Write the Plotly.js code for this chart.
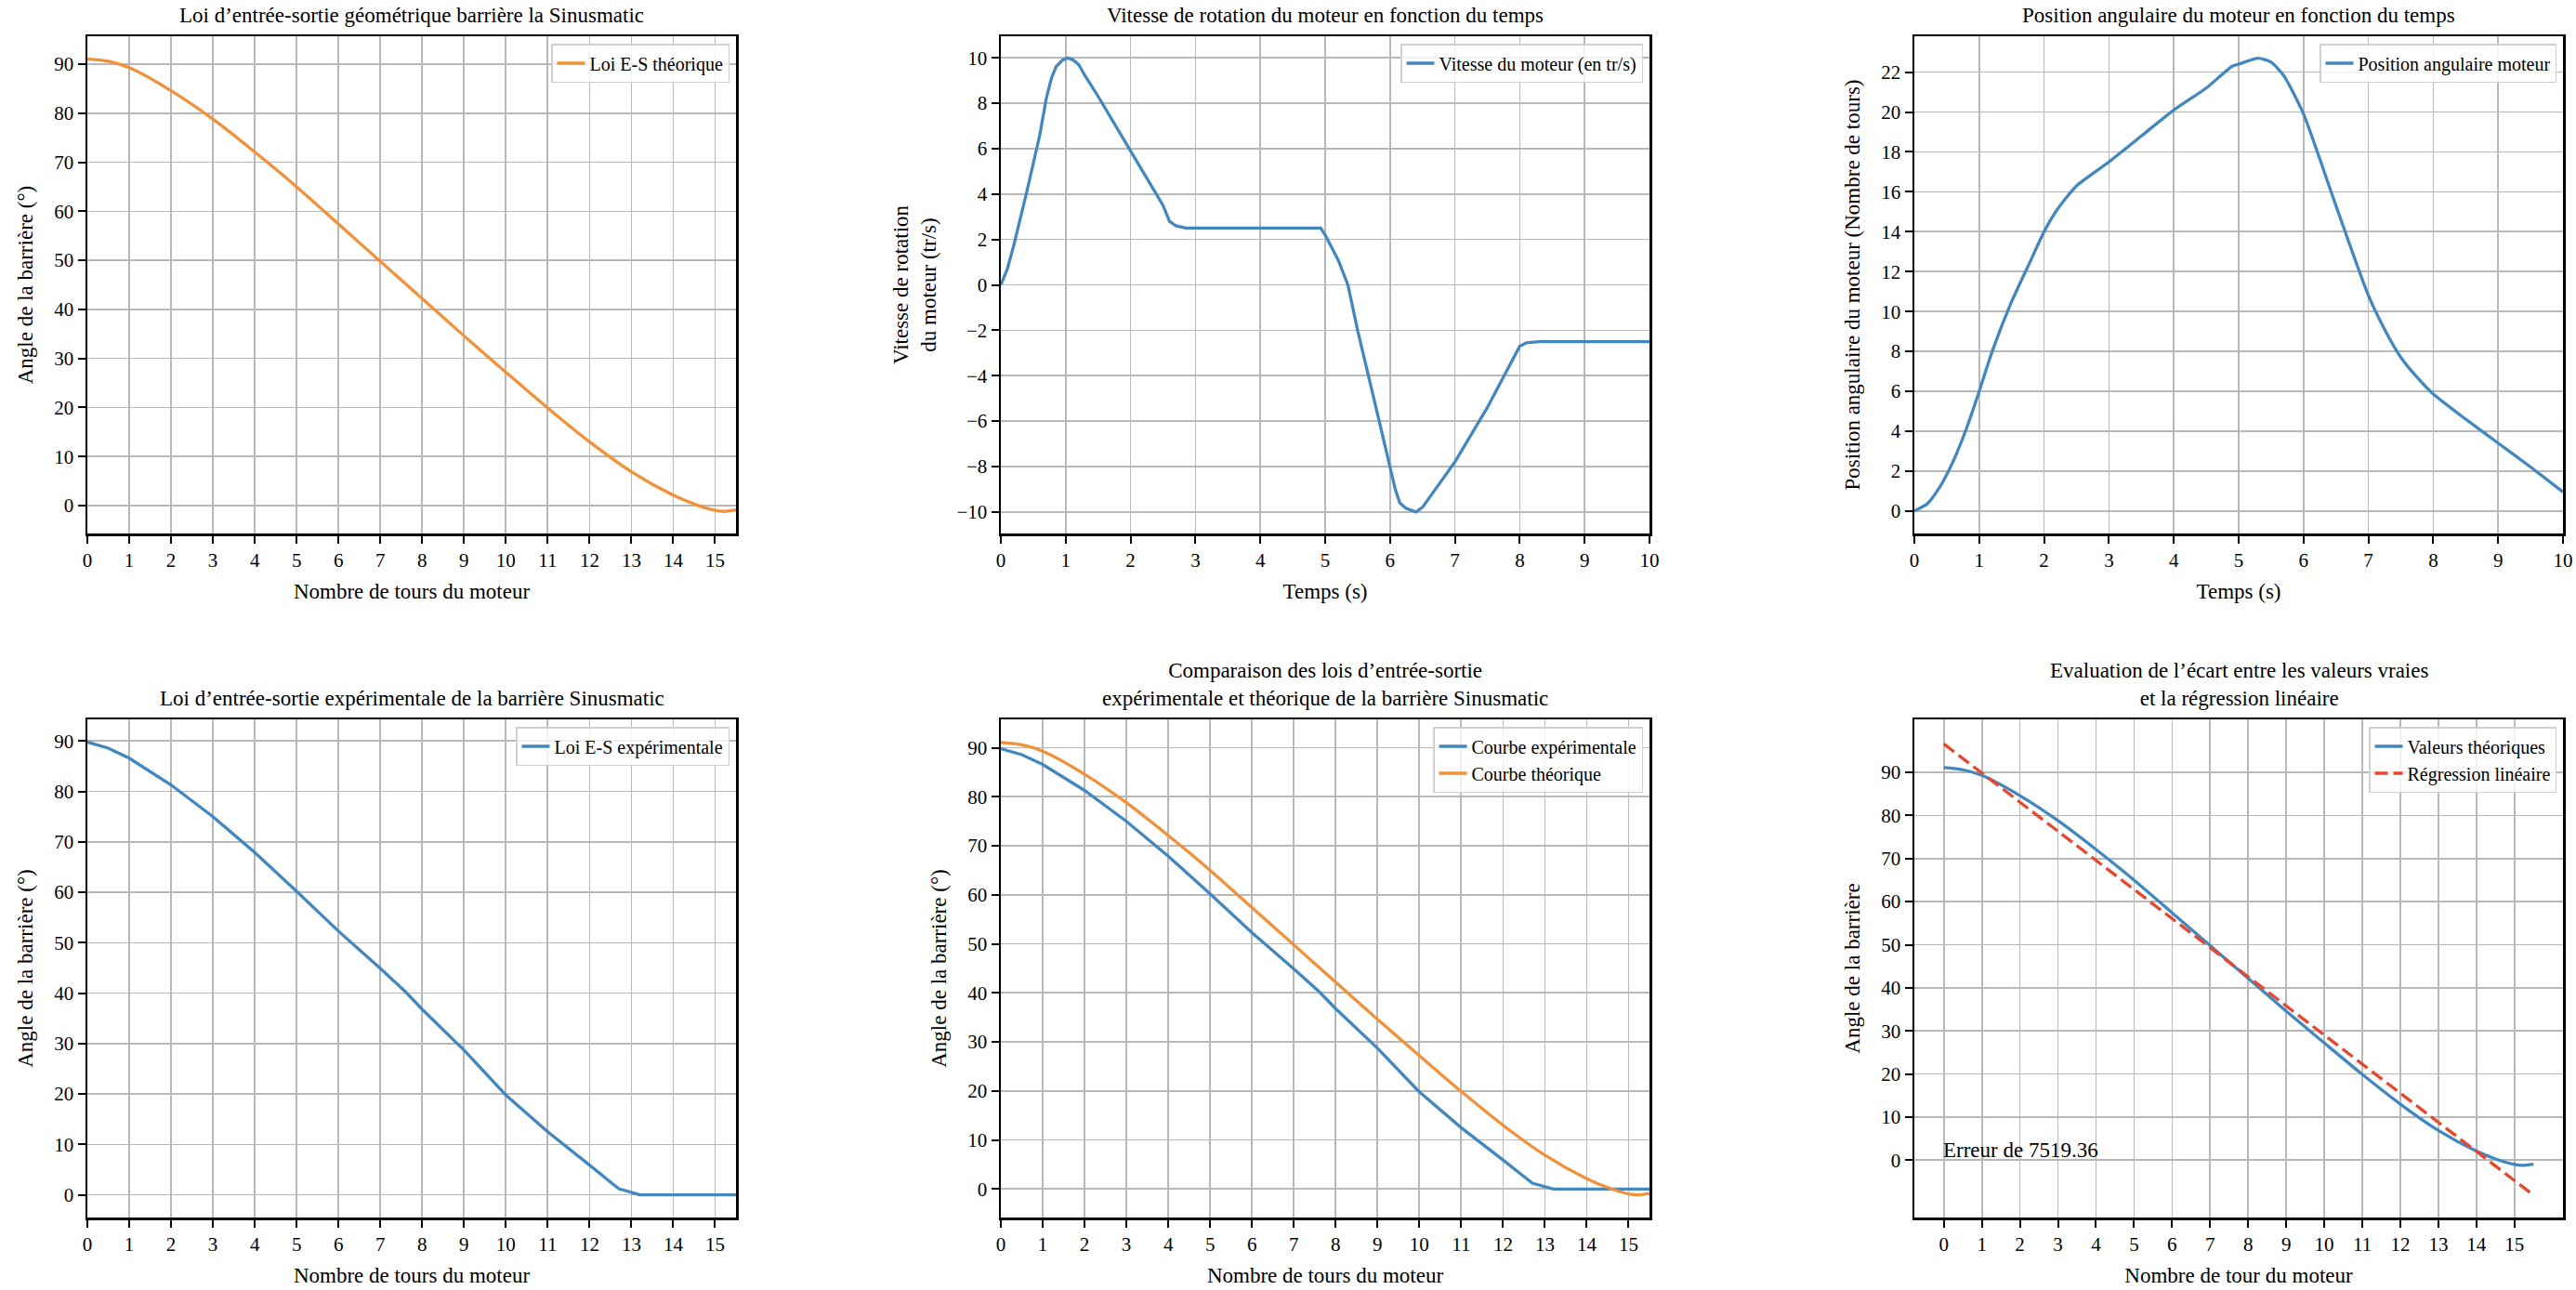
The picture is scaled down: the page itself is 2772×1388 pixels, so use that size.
<!DOCTYPE html>
<html>
<head>
<meta charset="utf-8">
<script src="https://cdn.plot.ly/plotly-3.0.1.min.js"></script>
<style>html,body{margin:0;padding:0;background:#fff;}#chart{width:2772px;height:1388px;}</style>
</head>
<body>
<div id="chart"></div>
<script>
// ---------- DATA ----------
const turnsTheo = [0, 0.5, 1, 2, 3, 4, 5, 6, 7, 8, 9, 10, 11, 12, 13, 14, 14.5, 15, 15.2, 15.5];
const angleTheo = [91.1, 90.6, 89.3, 84.6, 78.8, 72.1, 65.0, 57.4, 49.8, 42.2, 34.6, 27.2, 19.9, 13.0, 6.9, 2.1, 0.3, -1.0, -1.2, -0.9];

const turnsExp = [0, 0.5, 1, 2, 3, 4, 5, 6, 7, 7.6, 8, 9, 10, 11, 12, 12.7, 13.2, 14, 15, 15.5];
const angleExp = [89.8, 88.6, 86.6, 81.3, 75.0, 67.9, 60.2, 52.3, 44.9, 40.3, 36.8, 28.7, 19.8, 12.5, 5.9, 1.2, 0, 0, 0, 0];

const timeSpeed = [0, 0.1, 0.2, 0.4, 0.6, 0.7, 0.78, 0.85, 0.95, 1.03, 1.12, 1.2, 1.3, 1.5, 2.0, 2.5, 2.6, 2.7, 2.85, 3, 4, 4.93, 5.0, 5.2, 5.35, 5.5, 5.8, 6.0, 6.08, 6.15, 6.25, 6.4, 6.5, 6.6, 7.0, 7.5, 7.9, 8.0, 8.1, 8.3, 9, 10];
const speed     = [0, 0.7, 1.75, 4.1, 6.6, 8.2, 9.1, 9.6, 9.9, 10.0, 9.9, 9.7, 9.2, 8.3, 5.9, 3.5, 2.8, 2.6, 2.5, 2.5, 2.5, 2.5, 2.2, 1.1, 0.0, -2.0, -5.6, -8.1, -9.0, -9.6, -9.85, -10.0, -9.8, -9.4, -7.8, -5.4, -3.25, -2.7, -2.55, -2.5, -2.5, -2.5];

const timePos  = [0, 0.2, 0.4, 0.6, 0.8, 1.0, 1.2, 1.5, 1.8, 2.0, 2.2, 2.5, 3.0, 3.5, 4.0, 4.5, 4.9, 5.0, 5.3, 5.5, 5.7, 6.0, 6.5, 7.0, 7.25, 7.5, 7.75, 8.0, 8.5, 9.0, 9.5, 10];
const position = [0, 0.36, 1.24, 2.5, 4.1, 6.0, 8.0, 10.5, 12.6, 14.0, 15.1, 16.3, 17.5, 18.8, 20.1, 21.2, 22.3, 22.4, 22.7, 22.5, 21.8, 19.9, 15.3, 10.8, 9.1, 7.7, 6.7, 5.86, 4.6, 3.4, 2.2, 0.95];

const turnsReg = [0, 15.5];
const angleReg = [96.6, -8.1];

const ticks15 = [0, 1, 2, 3, 4, 5, 6, 7, 8, 9, 10, 11, 12, 13, 14, 15];
const ticksAngle = [0, 10, 20, 30, 40, 50, 60, 70, 80, 90];
const errorText = "Erreur de 7519.36";

// ---------- STYLE ----------
const W = 2772, H = 1388;
const FONT = "'Liberation Serif', 'DejaVu Serif', serif";
const BLUE = '#4387bf', ORANGE = '#f1913a', RED = '#e6472e';
const LW = 3.3;
const cols = [[94, 792], [1077, 1775], [2060, 2758]];
const rows = [[39, 574], [774, 1310]];
const xd = c => [cols[c][0] / W, cols[c][1] / W];
const yd = r => [1 - rows[r][1] / H, 1 - rows[r][0] / H];

function axisBase(extra) {
  return Object.assign({
    showline: true, mirror: true, linecolor: '#000', linewidth: 2.5,
    ticks: 'outside', ticklen: 8, tickwidth: 2, tickcolor: '#000',
    showgrid: true, gridcolor: '#b8b8b8', gridwidth: 1.7,
    zeroline: false, tickfont: {family: FONT, size: 21, color: '#000'},
    fixedrange: true
  }, extra);
}

const traces = [
  {x: turnsTheo, y: angleTheo, xaxis: 'x', yaxis: 'y', mode: 'lines', name: 'Loi E-S théorique',
   line: {color: ORANGE, width: LW, shape: 'spline', smoothing: 0.8}, legend: 'legend'},
  {x: timeSpeed, y: speed, xaxis: 'x2', yaxis: 'y2', mode: 'lines', name: 'Vitesse du moteur (en tr/s)',
   line: {color: BLUE, width: LW}, legend: 'legend2'},
  {x: timePos, y: position, xaxis: 'x3', yaxis: 'y3', mode: 'lines', name: 'Position angulaire moteur',
   line: {color: BLUE, width: LW, shape: 'spline', smoothing: 0.6}, legend: 'legend3'},
  {x: turnsExp, y: angleExp, xaxis: 'x4', yaxis: 'y4', mode: 'lines', name: 'Loi E-S expérimentale',
   line: {color: BLUE, width: LW}, legend: 'legend4'},
  {x: turnsExp, y: angleExp, xaxis: 'x5', yaxis: 'y5', mode: 'lines', name: 'Courbe expérimentale',
   line: {color: BLUE, width: LW}, legend: 'legend5'},
  {x: turnsTheo, y: angleTheo, xaxis: 'x5', yaxis: 'y5', mode: 'lines', name: 'Courbe théorique',
   line: {color: ORANGE, width: LW, shape: 'spline', smoothing: 0.8}, legend: 'legend5'},
  {x: turnsTheo, y: angleTheo, xaxis: 'x6', yaxis: 'y6', mode: 'lines', name: 'Valeurs théoriques',
   line: {color: BLUE, width: LW, shape: 'spline', smoothing: 0.8}, legend: 'legend6'},
  {x: turnsReg, y: angleReg, xaxis: 'x6', yaxis: 'y6', mode: 'lines', name: 'Régression linéaire',
   line: {color: RED, width: LW, dash: '14px,6px'}, legend: 'legend6'}
];

function legendAt(c, r) {
  return {
    x: (cols[c][1] - 7) / W, y: 1 - (rows[r][0] + 8) / H, xanchor: 'right', yanchor: 'top',
    xref: 'paper', yref: 'paper',
    bgcolor: 'rgba(255,255,255,0.8)', bordercolor: '#d0d0d0', borderwidth: 1.5,
    font: {family: FONT, size: 20, color: '#000'}, tracegroupgap: 0
  };
}

const titleFont = {family: FONT, size: 23, color: '#000'};
const xt = (text) => ({text: text, font: titleFont, standoff: 14});
const yt = (text) => ({text: text, font: titleFont, standoff: 16});

const layout = {
  width: W, height: H, margin: {l: 0, r: 0, t: 0, b: 0},
  paper_bgcolor: '#fff', plot_bgcolor: '#fff', showlegend: true,
  font: {family: FONT, color: '#000'},
  xaxis:  axisBase({domain: xd(0), anchor: 'y',  range: [0, 15.5], tick0: 0, dtick: 1, title: xt('Nombre de tours du moteur')}),
  yaxis:  axisBase({domain: yd(0), anchor: 'x',  range: [-5.7, 95.7], tick0: 0, dtick: 10, title: yt('Angle de la barrière (°)')}),
  xaxis2: axisBase({domain: xd(1), anchor: 'y2', range: [0, 10], tick0: 0, dtick: 1, title: xt('Temps (s)')}),
  yaxis2: axisBase({domain: yd(0), anchor: 'x2', range: [-10.95, 10.95], tick0: 0, dtick: 2, title: yt('Vitesse de rotation<br>du moteur (tr/s)')}),
  xaxis3: axisBase({domain: xd(2), anchor: 'y3', range: [0, 10], tick0: 0, dtick: 1, title: xt('Temps (s)')}),
  yaxis3: axisBase({domain: yd(0), anchor: 'x3', range: [-1.13, 23.8], tick0: 0, dtick: 2, title: yt('Position angulaire du moteur (Nombre de tours)')}),
  xaxis4: axisBase({domain: xd(0), anchor: 'y4', range: [0, 15.5], tick0: 0, dtick: 1, title: xt('Nombre de tours du moteur')}),
  yaxis4: axisBase({domain: yd(1), anchor: 'x4', range: [-4.49, 94.3], tick0: 0, dtick: 10, title: yt('Angle de la barrière (°)')}),
  xaxis5: axisBase({domain: xd(1), anchor: 'y5', range: [0, 15.5], tick0: 0, dtick: 1, title: xt('Nombre de tours du moteur')}),
  yaxis5: axisBase({domain: yd(1), anchor: 'x5', range: [-5.82, 95.8], tick0: 0, dtick: 10, title: yt('Angle de la barrière (°)')}),
  xaxis6: axisBase({domain: xd(2), anchor: 'y6', range: [-0.775, 16.275], tickmode: 'array', tickvals: ticks15, title: xt('Nombre de tour du moteur')}),
  yaxis6: axisBase({domain: yd(1), anchor: 'x6', range: [-13.3, 102.3], tickmode: 'array', tickvals: ticksAngle, title: yt('Angle de la barrière')}),
  legend: legendAt(0, 0), legend2: legendAt(1, 0), legend3: legendAt(2, 0),
  legend4: legendAt(0, 1), legend5: legendAt(1, 1), legend6: legendAt(2, 1),
  annotations: []
};

const titles = [
  [0, 0, 'Loi d’entrée-sortie géométrique barrière la Sinusmatic'],
  [1, 0, 'Vitesse de rotation du moteur en fonction du temps'],
  [2, 0, 'Position angulaire du moteur en fonction du temps'],
  [0, 1, 'Loi d’entrée-sortie expérimentale de la barrière Sinusmatic'],
  [1, 1, 'Comparaison des lois d’entrée-sortie<br>expérimentale et théorique de la barrière Sinusmatic'],
  [2, 1, 'Evaluation de l’écart entre les valeurs vraies<br>et la régression linéaire']
];
titles.forEach(([c, r, t]) => {
  layout.annotations.push({
    xref: 'paper', yref: 'paper', x: (cols[c][0] + cols[c][1]) / 2 / W, y: 1 - rows[r][0] / H,
    xanchor: 'center', yanchor: 'bottom', yshift: 8, showarrow: false, text: t,
    font: titleFont, align: 'center'
  });
});
layout.annotations.push({
  xref: 'x6', yref: 'y6', x: 0, y: 0, xanchor: 'left', yanchor: 'bottom', yshift: -4, xshift: -3,
  showarrow: false, text: errorText, font: {family: FONT, size: 23, color: '#000'}
});

Plotly.newPlot('chart', traces, layout, {displayModeBar: false, staticPlot: true});
</script>
</body>
</html>
